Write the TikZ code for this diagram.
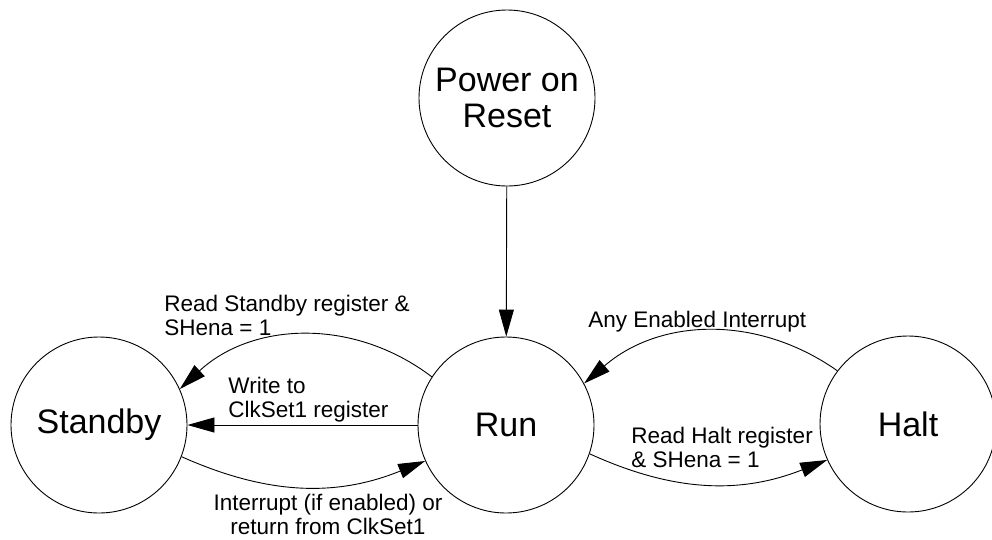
\documentclass[tikz,border=0pt]{standalone}
\usepackage{fontspec}
\setmainfont{Liberation Sans}
\usetikzlibrary{arrows.meta}

\begin{document}
\begin{tikzpicture}[x=1pt,y=-1pt,line width=0.9pt,
    state/.style={draw,circle,minimum size=176pt,inner sep=0pt,align=center,
      font=\fontsize{34}{36}\selectfont},
    lbl/.style={inner sep=0pt,font=\fontsize{22.5}{23.5}\selectfont},
    tip/.style={-{Triangle[length=27pt,width=15pt]}}]
  \useasboundingbox (0,0) rectangle (992,539);
  % states
  \node[state] (por) at (507,98) {Power on\\Reset};
  \node[state] (stby) at (99,425) {Standby};
  \node[state] (run) at (506,425) {Run};
  \node[state] (halt) at (908,424) {Halt};

  % transitions
  \draw[tip] (por) -- (run);
  \draw[tip] (run) -- (stby);
  \path[tip] (run.147) edge [bend right=40] (stby.24);
  \path[tip] (stby.-21) edge [bend right=23] (run.-156);
  \path[tip] (halt.143) edge [bend right=38] (run.28);
  \path[tip] (run.-19) edge [bend right=23] (halt.-156);

  % labels
  \node[lbl,anchor=north west,align=left] (rdsb) at (164,295) {Read Standby register \&\\SHena = 1};
  \node[lbl,anchor=north west,align=left] (wrclk) at (228,377) {Write to\\ClkSet1 register};
  \node[lbl,anchor=north,align=center] (intr) at (328,494) {Interrupt (if enabled) or\\return from ClkSet1};
  \node[lbl,anchor=north west] (anyint) at (588,311) {Any Enabled Interrupt};
  \node[lbl,anchor=north west,align=left] (rdhalt) at (631,427) {Read Halt register\\\& SHena = 1};
\end{tikzpicture}
\end{document}
